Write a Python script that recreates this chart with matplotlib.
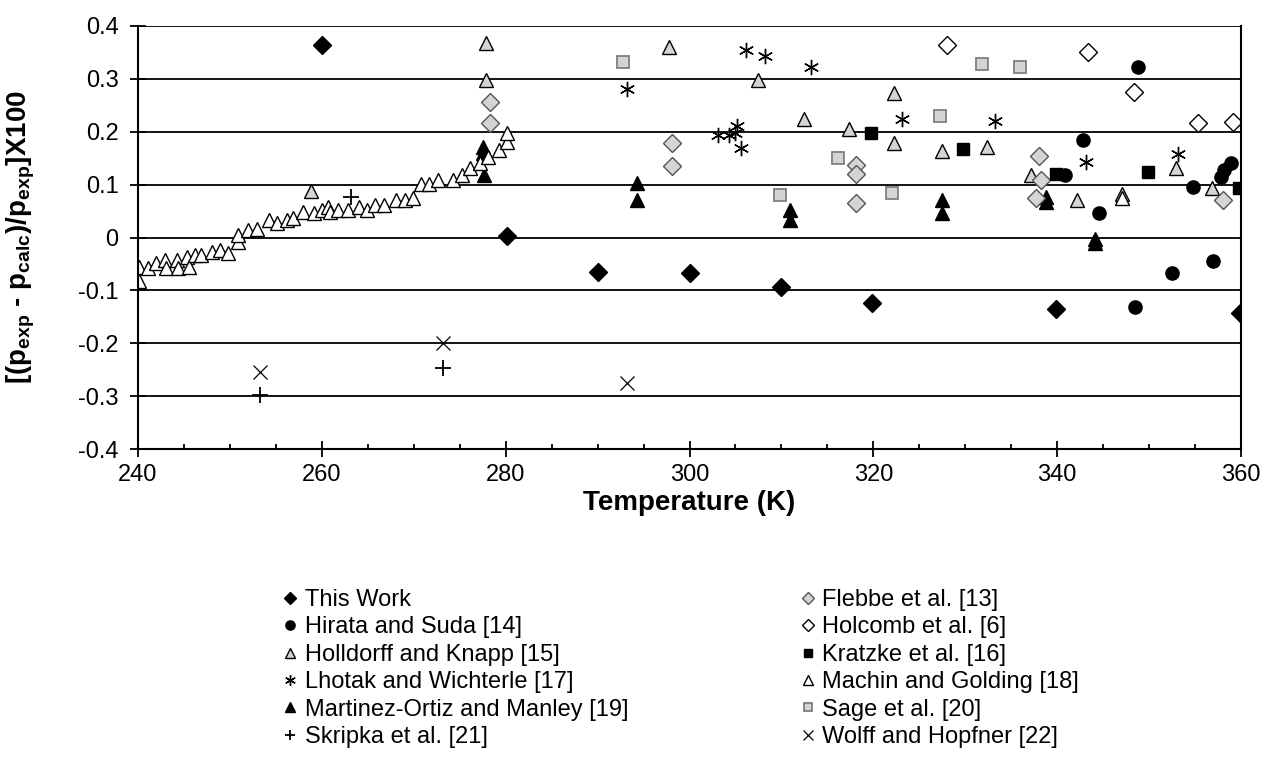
import matplotlib
matplotlib.use("Agg")
from matplotlib import pyplot as plt
from matplotlib.ticker import MultipleLocator

plt.rcParams["font.family"] = ["Liberation Sans", "DejaVu Sans"]
plt.rcParams["mathtext.fontset"] = "custom"
plt.rcParams["mathtext.rm"] = "Liberation Sans"
plt.rcParams["mathtext.bf"] = "Liberation Sans:bold"

# data (temperature K, deviation x100)
this_work_t = [260.0, 280.1, 290.0, 300.0, 310.0, 319.9, 339.9, 359.9]
this_work_v = [0.364, 0.002, -0.066, -0.068, -0.093, -0.123, -0.136, -0.143]

flebbe_t = [278.3, 278.3, 298.1, 298.1, 318.1, 318.1, 318.1, 338.0, 338.2, 337.7, 358.0]
flebbe_v = [0.257, 0.216, 0.179, 0.135, 0.137, 0.120, 0.065, 0.154, 0.109, 0.074, 0.071]

hirata_t = [340.9, 342.8, 344.6, 348.5, 348.8, 352.5, 354.8, 356.9, 357.8, 358.2, 358.9]
hirata_v = [0.119, 0.185, 0.046, -0.132, 0.323, -0.068, 0.095, -0.044, 0.115, 0.128, 0.140]

holcomb_t = [328.0, 343.4, 348.4, 355.3, 359.1]
holcomb_v = [0.364, 0.351, 0.276, 0.217, 0.219]

holldorff_t = [258.8, 277.9, 277.9, 297.8, 307.5, 312.5, 317.4, 322.3, 322.3, 327.5,
               332.4, 337.1, 342.2, 347.1, 352.9, 356.8]
holldorff_v = [0.087, 0.367, 0.298, 0.361, 0.298, 0.225, 0.206, 0.274, 0.178, 0.164,
               0.172, 0.118, 0.071, 0.083, 0.131, 0.093]

kratzke_t = [319.7, 329.8, 339.9, 349.9, 359.8]
kratzke_v = [0.197, 0.167, 0.120, 0.123, 0.094]

lhotak_t = [293.2, 303.1, 304.3, 304.9, 305.2, 305.6, 306.2, 308.2, 313.2, 323.1, 333.2, 343.1, 353.1]
lhotak_v = [0.280, 0.194, 0.194, 0.197, 0.210, 0.169, 0.355, 0.343, 0.323, 0.224, 0.220, 0.143, 0.157]

machin_t = [240.1, 240.1, 241.1, 242.0, 242.9, 243.1, 244.2, 244.4, 245.3, 245.5,
            246.2, 246.9, 248.0, 248.9, 249.8, 250.9, 250.9, 252.0, 252.9, 254.2,
            255.1, 256.2, 256.9, 258.0, 259.1, 260.0, 260.7, 260.9, 261.8, 262.9,
            264.0, 264.9, 265.8, 266.8, 268.1, 269.0, 269.9, 270.8, 271.7, 272.6,
            274.3, 275.2, 276.1, 277.2, 278.1, 279.3, 280.1, 280.1, 347.1]
machin_v = [-0.055, -0.083, -0.058, -0.049, -0.043, -0.058, -0.043, -0.058, -0.036, -0.055,
            -0.033, -0.033, -0.027, -0.024, -0.030, -0.008, 0.005, 0.014, 0.017, 0.033,
            0.027, 0.033, 0.036, 0.049, 0.046, 0.052, 0.058, 0.049, 0.052, 0.052,
            0.058, 0.052, 0.061, 0.061, 0.071, 0.071, 0.074, 0.102, 0.102, 0.109,
            0.109, 0.118, 0.131, 0.140, 0.153, 0.165, 0.181, 0.197, 0.075]

martinez_t = [277.5, 277.5, 277.6, 294.3, 294.3, 310.9, 310.9, 327.5, 327.5, 338.8, 338.8, 344.1, 344.1]
martinez_v = [0.172, 0.160, 0.118, 0.104, 0.071, 0.052, 0.033, 0.071, 0.046, 0.077, 0.068, -0.003, -0.011]

sage_t = [292.8, 309.8, 316.2, 322.0, 327.2, 331.8, 336.0]
sage_v = [0.331, 0.080, 0.151, 0.085, 0.229, 0.328, 0.322]

skripka_t = [253.3, 263.2, 273.2]
skripka_v = [-0.298, 0.077, -0.247]

wolff_t = [253.3, 273.2, 293.2]
wolff_v = [-0.255, -0.200, -0.276]

ytick_values = [-0.4, -0.3, -0.2, -0.1, 0.0, 0.1, 0.2, 0.3, 0.4]
ytick_labels = ["-0.4", "-0.3", "-0.2", "-0.1", "0", "0.1", "0.2", "0.3", "0.4"]

gray = "#d6d3d1"

fig = plt.figure(figsize=(12.63, 7.61), dpi=100)
ax = fig.add_axes([138 / 1263, 1 - 449 / 761, 1103 / 1263, 423 / 761])

ax.set_axisbelow(True)
ax.grid(True, axis="y", color="black", linewidth=1.3)

series = {}
series["This Work"] = ax.plot(this_work_t, this_work_v, ls="none", marker="D", ms=9,
                              mfc="black", mec="black")[0]
series["Hirata and Suda [14]"] = ax.plot(hirata_t, hirata_v, ls="none", marker="o", ms=9.5,
                                         mfc="black", mec="black")[0]
series["Holldorff and Knapp [15]"] = ax.plot(holldorff_t, holldorff_v, ls="none", marker="^", ms=10,
                                             mfc=gray, mec="black", mew=1.0)[0]
series["Lhotak and Wichterle [17]"] = ax.plot(lhotak_t, lhotak_v, ls="none", marker=(6, 2, 0), ms=11,
                                              mec="black", mew=1.0)[0]
series["Martinez-Ortiz and Manley [19]"] = ax.plot(martinez_t, martinez_v, ls="none", marker="^", ms=10,
                                                   mfc="black", mec="black")[0]
series["Skripka et al. [21]"] = ax.plot(skripka_t, skripka_v, ls="none", marker="+", ms=11,
                                        mec="black", mew=1.3)[0]
series["Flebbe et al. [13]"] = ax.plot(flebbe_t, flebbe_v, ls="none", marker="D", ms=9,
                                       mfc=gray, mec="#555555", mew=1.0)[0]
series["Holcomb et al. [6]"] = ax.plot(holcomb_t, holcomb_v, ls="none", marker="D", ms=9,
                                       mfc="white", mec="black", mew=1.0)[0]
series["Kratzke et al. [16]"] = ax.plot(kratzke_t, kratzke_v, ls="none", marker="s", ms=8,
                                        mfc="black", mec="black")[0]
series["Machin and Golding [18]"] = ax.plot(machin_t, machin_v, ls="none", marker="^", ms=10,
                                            mfc="white", mec="black", mew=1.0)[0]
series["Sage et al. [20]"] = ax.plot(sage_t, sage_v, ls="none", marker="s", ms=9,
                                     mfc=gray, mec="#7f7f7f", mew=1.3)[0]
series["Wolff and Hopfner [22]"] = ax.plot(wolff_t, wolff_v, ls="none", marker="x", ms=10,
                                           mec="black", mew=0.9)[0]

ax.set_xlim(240, 360)
ax.set_ylim(-0.4, 0.4)
ax.xaxis.set_major_locator(MultipleLocator(20))
ax.xaxis.set_minor_locator(MultipleLocator(5))
ax.set_yticks(ytick_values)
ax.set_yticklabels(ytick_labels)

ax.tick_params(axis="x", which="major", direction="inout", length=12, width=1.3,
               labelsize=17, pad=5)
ax.tick_params(axis="x", which="minor", direction="in", length=3.5, width=1.3)
ax.tick_params(axis="y", which="major", direction="inout", length=12, width=1.3,
               labelsize=17, pad=8)

for side in ["left", "bottom", "right"]:
    ax.spines[side].set_linewidth(1.5)
ax.spines["top"].set_visible(False)

ax.set_xlabel("Temperature (K)", fontsize=20, fontweight="bold")
ax.xaxis.set_label_coords(0.5, -0.097)
ax.set_ylabel(r"[(p$_{\mathbf{exp}}$ - p$_{\mathbf{calc}}$)/p$_{\mathbf{exp}}$]X100",
              fontsize=20, fontweight="bold")
ax.yaxis.set_label_coords(-0.092, 0.5)

order = ["This Work", "Hirata and Suda [14]", "Holldorff and Knapp [15]",
         "Lhotak and Wichterle [17]", "Martinez-Ortiz and Manley [19]", "Skripka et al. [21]",
         "Flebbe et al. [13]", "Holcomb et al. [6]", "Kratzke et al. [16]",
         "Machin and Golding [18]", "Sage et al. [20]", "Wolff and Hopfner [22]"]
fig.legend([series[k] for k in order], order, ncol=2, loc="upper left",
           bbox_to_anchor=(281 / 1263, 1 - 589 / 761), frameon=False, fontsize=17,
           markerscale=0.7, handlelength=0.8, handletextpad=0.2, labelspacing=0.23,
           columnspacing=7.2, borderpad=0, borderaxespad=0)

fig.savefig("out.png", dpi=100)
